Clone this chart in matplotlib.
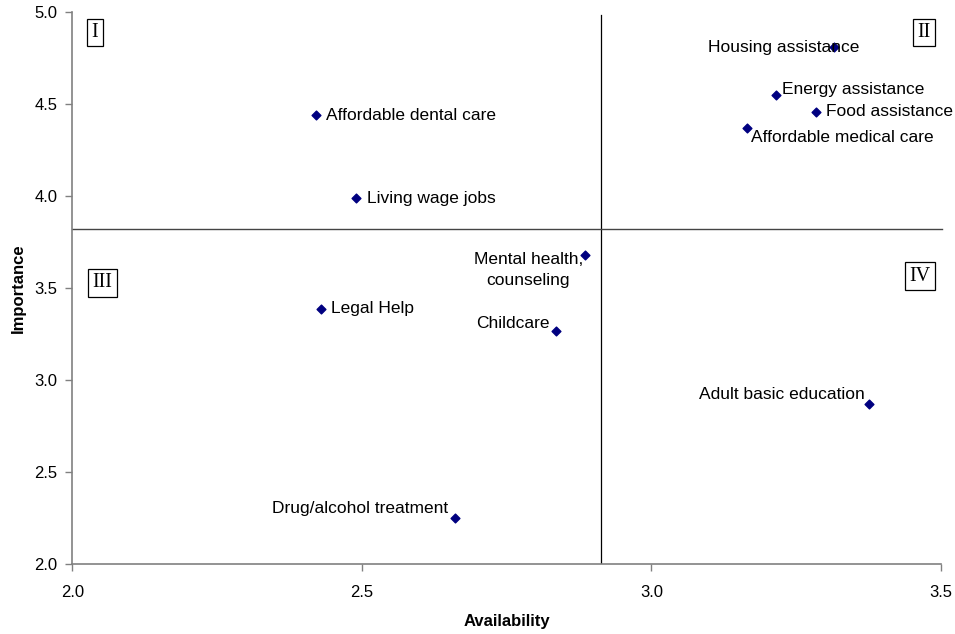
import matplotlib.pyplot as plt

plt.rcParams["font.family"] = ["Liberation Sans", "DejaVu Sans"]

# Service ratings: availability (x) vs importance (y)
services = [
    "Housing assistance", "Energy assistance", "Food assistance",
    "Affordable medical care", "Affordable dental care", "Living wage jobs",
    "Mental health,\ncounseling", "Legal Help", "Childcare",
    "Adult basic education", "Drug/alcohol treatment",
]
availability = [3.315, 3.215, 3.285, 3.165, 2.42, 2.49, 2.885, 2.43, 2.835, 3.375, 2.66]
importance = [4.81, 4.55, 4.46, 4.37, 4.44, 3.99, 3.68, 3.39, 3.27, 2.87, 2.25]

# Quadrant dividers
x_split = 2.912
y_split = 3.822

# label offsets in pixels and alignment for each point
label_pos = [
    (26, 0, "right", "center"),
    (6, 6, "left", "center"),
    (10, 0, "left", "center"),
    (4, -9, "left", "center"),
    (10, 0, "left", "center"),
    (11, 0, "left", "center"),
    (-2, 3, "right", "top"),
    (10, 0, "left", "center"),
    (-6, 7, "right", "center"),
    (-4, 10, "right", "center"),
    (-6, 10, "right", "center"),
]

fig = plt.figure(figsize=(9.55, 6.34), dpi=100)
ax = fig.add_axes([0.0759, 0.1099, 0.9094, 0.8707])

ax.scatter(availability, importance, marker="D", s=20, color="#000080", zorder=3)

for name, x, y, (dx, dy, ha, va) in zip(services, availability, importance, label_pos):
    ax.annotate(name, (x, y), xytext=(dx, dy), textcoords="offset pixels",
                ha=ha, va=va, fontsize=12.5, multialignment="center",
                linespacing=1.45, color="black")

ax.axvline(x_split, ymin=0, ymax=0.995, color="black", linewidth=0.9)
ax.plot([2.0, 3.502], [y_split, y_split], color="#444444", linewidth=1.0, clip_on=False)

# quadrant numbers
quads = [("I", 2.039, 4.89), ("II", 3.471, 4.89), ("III", 2.052, 3.53), ("IV", 3.464, 3.565)]
for q, qx, qy in quads:
    ax.text(qx, qy, q, family="Liberation Serif", fontsize=14.5, ha="center", va="center",
            bbox=dict(boxstyle="square,pad=0.22", facecolor="white", edgecolor="black", linewidth=0.9))

ax.set_xlim(2.0, 3.5)
ax.set_ylim(2.0, 5.0)
ax.set_xticks([2.0, 2.5, 3.0, 3.5])
ax.set_yticks([2.0, 2.5, 3.0, 3.5, 4.0, 4.5, 5.0])
ax.xaxis.set_major_formatter(plt.FormatStrFormatter("%.1f"))
ax.yaxis.set_major_formatter(plt.FormatStrFormatter("%.1f"))
ax.tick_params(labelsize=12, color="#808080", length=5, width=1)
ax.tick_params(axis="x", pad=10)
ax.tick_params(axis="y", pad=6)

for side in ["top", "right"]:
    ax.spines[side].set_visible(False)
for side in ["left", "bottom"]:
    ax.spines[side].set_color("#808080")
    ax.spines[side].set_linewidth(1.2)

ax.set_xlabel("Availability", fontsize=12, fontweight="bold", labelpad=10)
ax.set_ylabel("Importance", fontsize=12, fontweight="bold", labelpad=6)

fig.savefig("out.png", dpi=100)
